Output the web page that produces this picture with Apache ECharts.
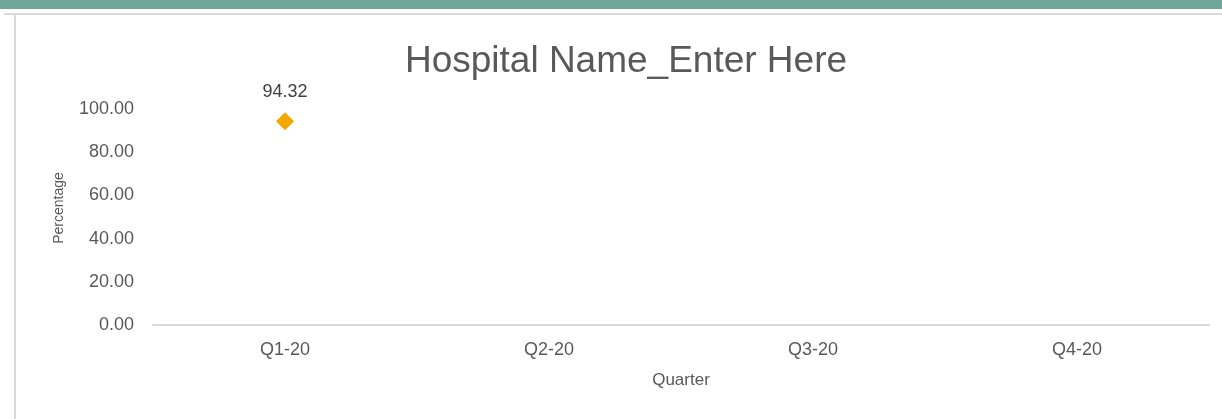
<!DOCTYPE html>
<html>
<head>
<meta charset="utf-8">
<script src="https://cdn.jsdelivr.net/npm/echarts@6/dist/echarts.min.js"></script>
<style>
  html, body { margin: 0; padding: 0; background: #fff; }
  #topBar { position: absolute; left: 0; top: 0; width: 1222px; height: 9px; background: #70a79b; }
  #frameTop { position: absolute; left: 4px; top: 13px; width: 1218px; height: 2px; background: #d9d9d9; }
  #frameLeft { position: absolute; left: 14px; top: 13px; width: 2px; height: 406px; background: #d9d9d9; }
  #chart { position: absolute; left: 0; top: 0; width: 1222px; height: 419px; }
</style>
</head>
<body>
<div id="topBar"></div>
<div id="frameTop"></div>
<div id="frameLeft"></div>
<div id="chart"></div>
<script>
// 数据
const quarters = ['Q1-20', 'Q2-20', 'Q3-20', 'Q4-20'];
const percentValues = [94.32, null, null, null];
const yMin = 0;
const yMax = 100;
const yStep = 20;

const labelFont = '"Liberation Sans", Arial, sans-serif';

let myChart = echarts.init(document.getElementById('chart'));
const option = {
    animation: false,
    title: {
        text: 'Hospital Name_Enter Here',
        left: 621,
        top: 38,
        textAlign: 'center',
        textStyle: { fontFamily: labelFont, fontSize: 37, fontWeight: 'normal', color: '#595959' }
    },
    grid: { left: 153, right: 13, top: 109, bottom: 94, containLabel: false },
    xAxis: {
        type: 'category',
        data: quarters,
        boundaryGap: true,
        name: 'Quarter',
        nameLocation: 'middle',
        nameGap: 47,
        nameTextStyle: { fontFamily: labelFont, fontSize: 17, color: '#595959' },
        axisLine: { lineStyle: { color: '#d9d9d9', width: 2 } },
        axisTick: { show: false },
        axisLabel: { margin: 16, fontFamily: labelFont, fontSize: 18, color: '#595959' }
    },
    yAxis: {
        type: 'value',
        min: yMin,
        max: yMax,
        interval: yStep,
        name: 'Percentage',
        nameLocation: 'middle',
        nameGap: 87,
        nameTextStyle: { fontFamily: labelFont, fontSize: 14, color: '#595959', padding: [0, 0, 0, 18] },
        axisLine: { show: false },
        axisTick: { show: false },
        splitLine: { show: false },
        axisLabel: {
            margin: 19,
            fontFamily: labelFont,
            fontSize: 18,
            color: '#595959',
            formatter: v => v.toFixed(2)
        }
    },
    series: [
        {
            type: 'line',
            data: percentValues,
            symbol: 'diamond',
            symbolSize: 18,
            showAllSymbol: true,
            itemStyle: { color: '#f2a800' },
            lineStyle: { color: '#f2a800', width: 2 },
            label: {
                show: true,
                position: 'top',
                distance: 11,
                fontFamily: labelFont,
                fontSize: 18,
                color: '#404040',
                formatter: p => p.value == null ? '' : p.value.toFixed(2)
            }
        }
    ]
};
myChart.setOption(option);
</script>
</body>
</html>
